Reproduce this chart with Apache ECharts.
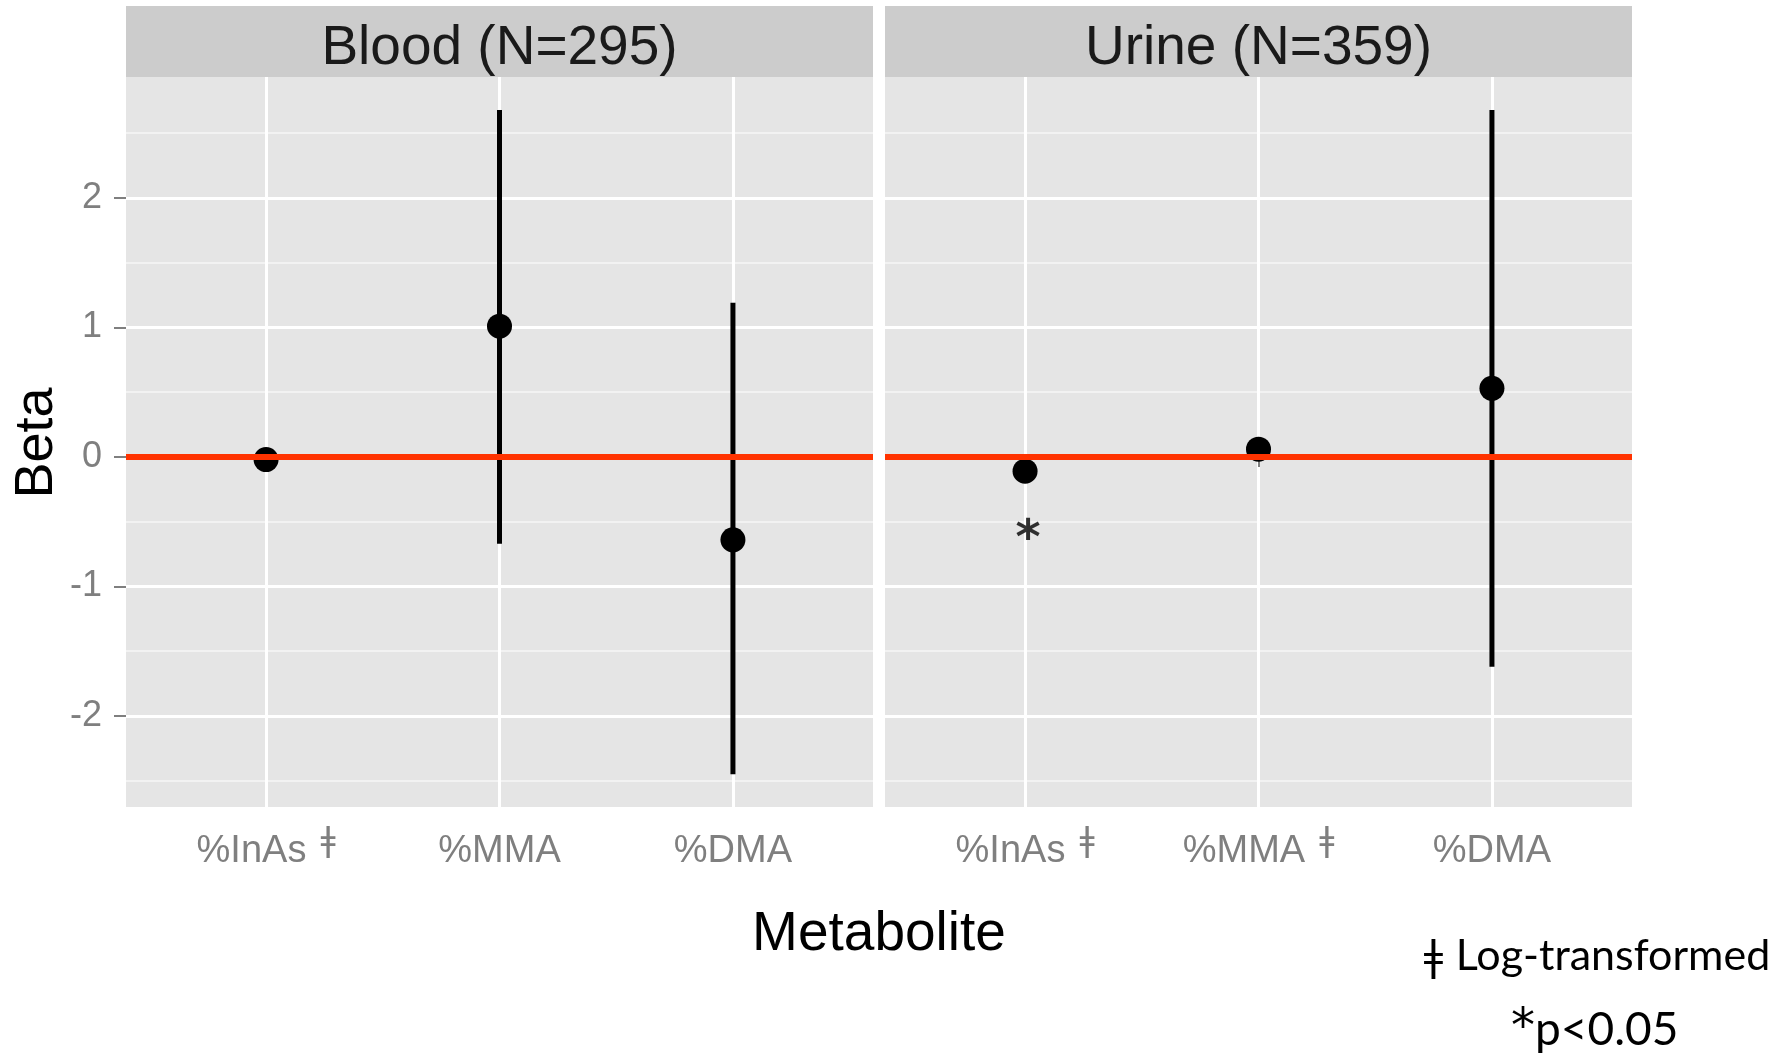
<!DOCTYPE html>
<html><head><meta charset="utf-8">
<script src="https://cdn.jsdelivr.net/npm/echarts@6/dist/echarts.min.js"></script>
<style>html,body{margin:0;padding:0;background:#fff}#c{width:1784px;height:1054px}</style>
</head><body><div id="c"></div>
<script>
// ---- data ----
const panels = ['Blood (N=295)', 'Urine (N=359)'];
const metabolites = ['%InAs', '%MMA', '%DMA'];
const logFlagsBlood = [true, false, false];
const logFlagsUrine = [true, true, false];
const bloodBeta  = [-0.02, 1.01, -0.64];
const bloodLower = [-0.07, -0.67, -2.45];
const bloodUpper = [0.03, 2.68, 1.19];
const urineBeta  = [-0.11, 0.06, 0.53];
const urineLower = [-0.17, 0.02, -1.62];
const urineUpper = [-0.05, 0.11, 2.68];
const yTicks = [-2, -1, 0, 1, 2];
const yMinorTicks = [-2.5, -1.5, -0.5, 0.5, 1.5, 2.5];
const refLine = 0;
const sigCategory = 1;      // Urine %InAs (1-based)
const sigY = -0.56;
const sigText = '*';
const footLog = '\u01C2 Log-transformed';
const footSigStar = '*';
const footSigText = 'p<0.05';
const logMark = '\u01C2';

// ---- build ----
const xPos = metabolites.map((_, i) => i + 1);
const yMin = -2.703, yMax = 2.934;
const grey = '#7F7F7F';
const sans = '"Liberation Sans", Arial, sans-serif';
const calib = 'Lato, "Open Sans", sans-serif';

function xAxisFor(gi, flags) {
  return {
    gridIndex: gi, type: 'value', min: 0.4, max: 3.6,
    axisLine: {show: false},
    axisTick: {show: true, length: 10, customValues: xPos, lineStyle: {color: grey, width: 2}},
    axisLabel: {
      customValues: xPos, margin: 19,
      formatter: v => {
        const i = Math.round(v) - 1;
        return flags[i] ? '{n|' + metabolites[i] + '}{d|' + logMark + '}' : '{n|' + metabolites[i] + '}';
      },
      rich: {
        n: {fontFamily: sans, fontSize: 38, color: grey, lineHeight: 52},
        d: {fontFamily: 'DejaVu Sans', fontSize: 33, color: grey, verticalAlign: 'top', lineHeight: 33, padding: [0, 0, 0, 14]}
      }
    },
    splitLine: {show: true, lineStyle: {color: '#FFFFFF', width: 3}}
  };
}
function yMajor(gi, showLabels) {
  return {
    gridIndex: gi, type: 'value', min: yMin, max: yMax,
    axisLine: {show: false},
    axisTick: {show: showLabels, length: 12, customValues: yTicks, lineStyle: {color: grey, width: 2}},
    axisLabel: {show: showLabels, customValues: yTicks, margin: 24, fontFamily: sans, fontSize: 36, color: grey},
    splitLine: {show: true, lineStyle: {color: '#FFFFFF', width: 3}}
  };
}
function yMinor(gi) {
  return {
    gridIndex: gi, type: 'value', min: yMin, max: yMax, position: 'right',
    axisLine: {show: false},
    axisTick: {show: false, customValues: yMinorTicks},
    axisLabel: {show: false, customValues: yMinorTicks},
    splitLine: {show: true, lineStyle: {color: '#F2F2F2', width: 2}}
  };
}
function errSeries(xi, yi, lo, hi) {
  return {
    type: 'custom', xAxisIndex: xi, yAxisIndex: yi, z: 2,
    data: xPos.map((x, i) => [x, lo[i], hi[i]]),
    encode: {x: 0, y: [1, 2]},
    renderItem: (params, api) => {
      const x = api.value(0);
      const p1 = api.coord([x, api.value(1)]);
      const p2 = api.coord([x, api.value(2)]);
      return {type: 'line', shape: {x1: p1[0], y1: p1[1], x2: p2[0], y2: p2[1]},
              style: {stroke: '#000', lineWidth: 5}};
    }
  };
}
function ptSeries(xi, yi, vals) {
  return {
    type: 'scatter', xAxisIndex: xi, yAxisIndex: yi, z: 3,
    symbol: 'circle', symbolSize: 25, itemStyle: {color: '#000', opacity: 1},
    data: xPos.map((x, i) => [x, vals[i]]),
    markLine: {
      silent: true, symbol: 'none', label: {show: false}, animation: false,
      lineStyle: {color: '#FF3300', width: 6, type: 'solid'},
      data: [{yAxis: refLine}]
    }
  };
}

const chart = echarts.init(document.getElementById('c'), null, {renderer: 'canvas'});
chart.setOption({
  animation: false,
  backgroundColor: '#FFFFFF',
  grid: [
    {left: 126, top: 77, width: 747, height: 730, show: true, backgroundColor: '#E5E5E5', borderWidth: 0},
    {left: 885, top: 77, width: 747, height: 730, show: true, backgroundColor: '#E5E5E5', borderWidth: 0}
  ],
  xAxis: [xAxisFor(0, logFlagsBlood), xAxisFor(1, logFlagsUrine)],
  yAxis: [yMajor(0, true), yMinor(0), yMajor(1, false), yMinor(1)],
  series: [
    errSeries(0, 0, bloodLower, bloodUpper),
    ptSeries(0, 0, bloodBeta),
    errSeries(1, 2, urineLower, urineUpper),
    ptSeries(1, 2, urineBeta),
    {
      type: 'scatter', xAxisIndex: 1, yAxisIndex: 2, z: 4, silent: true,
      symbolSize: 1, itemStyle: {color: 'rgba(0,0,0,0)'},
      data: [[xPos[sigCategory - 1], sigY]],
      label: {show: true, position: 'inside', formatter: sigText, offset: [3, 11],
              fontFamily: 'DejaVu Sans', fontWeight: 'bold', fontSize: 48, color: '#000'}
    }
  ],
  graphic: [
    {type: 'rect', shape: {x: 126, y: 6, width: 747, height: 71}, style: {fill: '#CCCCCC'}, z: -1},
    {type: 'rect', shape: {x: 885, y: 6, width: 747, height: 71}, style: {fill: '#CCCCCC'}, z: -1},
    {type: 'text', x: 499.5, y: 49, style: {text: panels[0], font: '55px ' + sans, fill: '#1A1A1A', textAlign: 'center', textVerticalAlign: 'middle'}},
    {type: 'text', x: 1258.5, y: 49, style: {text: panels[1], font: '55px ' + sans, fill: '#1A1A1A', textAlign: 'center', textVerticalAlign: 'middle'}},
    {type: 'text', x: 37, y: 443, rotation: Math.PI / 2, style: {text: 'Beta', font: '54px ' + sans, fill: '#000', textAlign: 'center', textVerticalAlign: 'middle'}},
    {type: 'text', x: 879, y: 935, style: {text: 'Metabolite', font: '55px ' + sans, fill: '#000', textAlign: 'center', textVerticalAlign: 'middle'}},
    {type: 'text', x: 1422, y: 956, style: {text: footLog, font: '43px ' + calib, fill: '#000', textAlign: 'left', textVerticalAlign: 'middle'}},
    {type: 'text', x: 1511, y: 1030, style: {
      text: '{a|' + footSigStar + '}{b|' + footSigText + '}', textAlign: 'left', textVerticalAlign: 'middle',
      rich: {a: {fontFamily: 'DejaVu Sans', fontSize: 48, fill: '#000', color: '#000'},
             b: {fontFamily: calib, fontSize: 46, fill: '#000', color: '#000'}}
    }}
  ]
});
</script></body></html>
